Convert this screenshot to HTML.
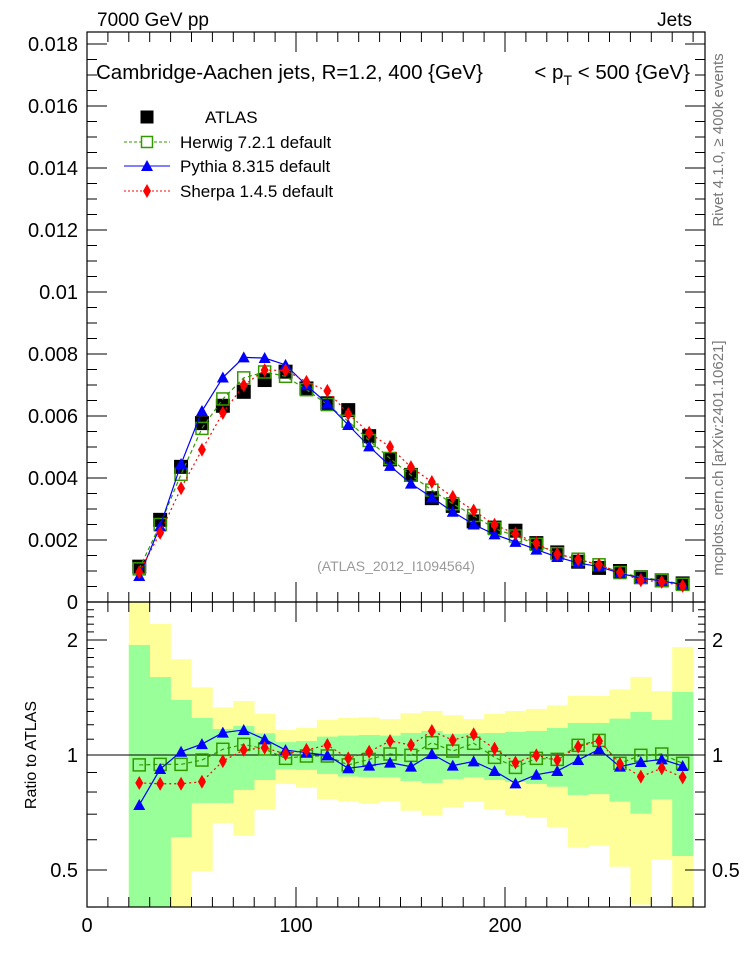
<!DOCTYPE html>
<html><head><meta charset="utf-8"><style>
html,body{margin:0;padding:0;background:#fff;}
svg{display:block;font-family:"Liberation Sans",sans-serif;}
</style></head><body>
<svg id="c" width="746" height="972" viewBox="0 0 746 972"></svg>
<script>
const binLo=[20,30,40,50,60,70,80,90,100,110,120,130,140,150,160,170,180,190,200,210,220,230,240,250,260,270,280];
const binHi=[30,40,50,60,70,80,90,100,110,120,130,140,150,160,170,180,190,200,210,220,230,240,250,260,270,280,290];
const centers=[25,35,45,55,65,75,85,95,105,115,125,135,145,155,165,175,185,195,205,215,225,235,245,255,265,275,285];
const atlas=[0.00114,0.00265,0.00436,0.00577,0.00633,0.00678,0.00716,0.00743,0.00689,0.00641,0.00619,0.00535,0.00460,0.00410,0.00335,0.00310,0.00260,0.00240,0.00230,0.00190,0.00160,0.00130,0.00110,0.00100,0.00080,0.00070,0.00060];
const herwig=[0.00107,0.00250,0.00412,0.00560,0.00655,0.00723,0.00742,0.00728,0.00685,0.00637,0.00583,0.00521,0.00463,0.00409,0.00361,0.00317,0.00279,0.00237,0.00213,0.00186,0.00156,0.00138,0.00120,0.00095,0.00080,0.00070,0.00057];
const pythia=[0.00084,0.00244,0.00445,0.00616,0.00724,0.00789,0.00787,0.00765,0.00699,0.00640,0.00571,0.00502,0.00439,0.00382,0.00337,0.00291,0.00250,0.00218,0.00194,0.00169,0.00145,0.00126,0.00114,0.00093,0.00077,0.00068,0.00056];
const sherpa=[0.00096,0.00223,0.00367,0.00491,0.00610,0.00699,0.00748,0.00747,0.00710,0.00681,0.00607,0.00546,0.00500,0.00435,0.00387,0.00339,0.00295,0.00249,0.00220,0.00190,0.00155,0.00137,0.00120,0.00095,0.00070,0.00065,0.00052];
const herwigRatio=[0.942,0.945,0.945,0.970,1.035,1.066,1.037,0.980,0.994,0.994,0.942,0.974,1.006,0.998,1.077,1.024,1.073,0.986,0.928,0.980,0.974,1.060,1.092,0.951,0.998,1.006,0.951];
const pythiaRatio=[0.740,0.919,1.020,1.068,1.144,1.163,1.099,1.030,1.014,0.998,0.923,0.938,0.955,0.932,1.006,0.938,0.962,0.908,0.843,0.888,0.908,0.970,1.035,0.932,0.959,0.974,0.936];
const sherpaRatio=[0.845,0.841,0.841,0.851,0.964,1.031,1.045,1.006,1.031,1.062,0.980,1.020,1.088,1.062,1.156,1.094,1.133,1.039,0.955,0.998,0.970,1.052,1.088,0.947,0.878,0.923,0.874];
const greenHi=[1.941,1.600,1.393,1.250,1.170,1.191,1.140,1.081,1.088,1.117,1.124,1.128,1.124,1.142,1.156,1.135,1.140,1.142,1.149,1.156,1.177,1.213,1.213,1.245,1.296,1.235,1.462];
const greenLo=[0.3,0.3,0.610,0.749,0.749,0.810,0.860,0.917,0.914,0.892,0.878,0.874,0.874,0.855,0.845,0.865,0.874,0.860,0.850,0.840,0.826,0.786,0.790,0.755,0.702,0.765,0.544];
const yellowHi=[3.0,2.203,1.780,1.504,1.333,1.385,1.281,1.163,1.177,1.235,1.250,1.255,1.242,1.286,1.304,1.270,1.242,1.281,1.304,1.320,1.349,1.427,1.427,1.486,1.600,1.471,1.917];
const yellowLo=[0.3,0.3,0.3,0.497,0.664,0.615,0.719,0.840,0.821,0.767,0.755,0.746,0.758,0.715,0.694,0.731,0.755,0.722,0.696,0.686,0.648,0.572,0.579,0.510,0.406,0.532,0.3];
const yTicks=["0","0.002","0.004","0.006","0.008","0.01","0.012","0.014","0.016","0.018"];
const yTickVals=[0,0.002,0.004,0.006,0.008,0.010,0.012,0.014,0.016,0.018];
const xTicks=["0","100","200"];
const xTickVals=[0,100,200];
const rTicks=["0.5","1","2"];
const rTickVals=[0.5,1,2];

const L=87,R=705,T=32,M=602,B=907;
const sx=v=>L+v*2.09;
const sy=v=>M-v*31000;
const sr=r=>755-Math.log2(r)*115;
const NS="http://www.w3.org/2000/svg";
const svg=document.getElementById('c');
function el(tag,attrs,parent){const e=document.createElementNS(NS,tag);for(const k in attrs)e.setAttribute(k,attrs[k]);(parent||svg).appendChild(e);return e;}
function txt(s,attrs,parent){const e=el('text',attrs,parent);e.textContent=s;return e;}

const defs=el('defs',{});
const cp=el('clipPath',{id:'rc'},defs);el('rect',{x:L,y:M,width:R-L,height:B-M},cp);

const gb=el('g',{'clip-path':'url(#rc)'});


for(let i=0;i<binLo.length;i++){
  const y=el('rect',{x:sx(binLo[i]),y:sr(yellowHi[i]),width:sx(binHi[i])-sx(binLo[i])+0.3,height:sr(yellowLo[i])-sr(yellowHi[i]),fill:'#ffff99'},gb);
  
  
}
for(let i=0;i<binLo.length;i++){
  const g=el('rect',{x:sx(binLo[i]),y:sr(greenHi[i]),width:sx(binHi[i])-sx(binLo[i])+0.3,height:sr(greenLo[i])-sr(greenHi[i]),fill:'#99ff99'},gb);
  
  
}
el('line',{x1:L,x2:R,y1:sr(1),y2:sr(1),stroke:'#000','stroke-width':1});

const f1=el('rect',{x:L,y:T,width:R-L,height:M-T,fill:'none',stroke:'#000','stroke-width':1.2});


const f2=el('rect',{x:L,y:M,width:R-L,height:B-M,fill:'none',stroke:'#000','stroke-width':1.2});



for(let v=0;v<=290;v+=10){
  const major=(v%100===0);const len=major?20:10;const x=sx(v);
  el('line',{x1:x,x2:x,y1:M,y2:M-len,stroke:'#000'});
  el('line',{x1:x,x2:x,y1:T,y2:T+len,stroke:'#000'});
  el('line',{x1:x,x2:x,y1:B,y2:B-len,stroke:'#000'});
  el('line',{x1:x,x2:x,y1:M,y2:M+len,stroke:'#000'});
}
for(let i=0;i<xTicks.length;i++){
  const t=txt(xTicks[i],{x:sx(xTickVals[i]),y:932,'font-size':20,'text-anchor':'middle'});
  
  
}
for(let k=0;k<=36;k++){
  const v=k*0.0005;const y=sy(v);if(y<T)continue;const len=(k%4===0)?20:10;
  el('line',{x1:L,x2:L+len,y1:y,y2:y,stroke:'#000'});
  el('line',{x1:R,x2:R-len,y1:y,y2:y,stroke:'#000'});
}
for(let i=0;i<yTicks.length;i++){
  const t=txt(yTicks[i],{x:78,y:sy(yTickVals[i])+7,'font-size':20,'text-anchor':'end'});
  
  
}
const rMinor=[0.4,0.5,0.6,0.7,0.8,0.9,1,2];
for(const r of rMinor){const y=sr(r);const len=(r===0.5||r===1||r===2)?20:10;
  el('line',{x1:L,x2:L+len,y1:y,y2:y,stroke:'#000'});el('line',{x1:R,x2:R-len,y1:y,y2:y,stroke:'#000'});}
for(const r of [1.1,1.2,1.3,1.4,1.5,1.6,1.7,1.8,1.9,2.1,2.2,2.3,2.4]){const y=sr(r);
  el('line',{x1:L,x2:L+7,y1:y,y2:y,stroke:'#000'});el('line',{x1:R,x2:R-7,y1:y,y2:y,stroke:'#000'});}
for(let i=0;i<rTicks.length;i++){
  const a=txt(rTicks[i],{x:78,y:sr(rTickVals[i])+7,'font-size':20,'text-anchor':'end'});
  
  
  const b=txt(rTicks[i],{x:712,y:sr(rTickVals[i])+7,'font-size':20,'text-anchor':'start'});
  
  
}

function sq(g,x,y,s,fill,stroke){return el('rect',{x:x-s/2,y:y-s/2,width:s,height:s,fill:fill,stroke:stroke||'none','stroke-width':1.5},g);}
function tri(g,x,y,c){return el('polygon',{points:`${x},${y-6} ${x-6},${y+5} ${x+6},${y+5}`,fill:c},g);}
function dia(g,x,y,c){return el('polygon',{points:`${x},${y-7} ${x-4},${y} ${x},${y+7} ${x+4},${y}`,fill:c},g);}
const HC='#339900',PC='#0000ff',SC='#ff0000';

function series(name,vals,fx,fy,color,dash,marker,clip){
  const g=el('g',clip?{'clip-path':clip}:{});
  
  
  if(color){
    const pts=vals.map((v,i)=>`${fx(centers[i])},${fy(v)}`).join(' ');
    el('polyline',{points:pts,fill:'none',stroke:color,'stroke-width':1.2,'stroke-dasharray':dash||'none'},g);
  }
  vals.forEach((v,i)=>{const m=marker(g,fx(centers[i]),fy(v));
    
    });
}
series('atlas-data',atlas,sx,sy,null,null,(g,x,y)=>sq(g,x,y,14,'#000'));
series('herwig-curve',herwig,sx,sy,HC,'4,3',(g,x,y)=>sq(g,x,y,12,'none',HC));
series('pythia-curve',pythia,sx,sy,PC,null,(g,x,y)=>tri(g,x,y,PC));
series('sherpa-curve',sherpa,sx,sy,SC,'2,3',(g,x,y)=>dia(g,x,y,SC));
series('herwig-ratio',herwigRatio,sx,sr,HC,'4,3',(g,x,y)=>sq(g,x,y,12,'none',HC),'url(#rc)');
series('pythia-ratio',pythiaRatio,sx,sr,PC,null,(g,x,y)=>tri(g,x,y,PC),'url(#rc)');
series('sherpa-ratio',sherpaRatio,sx,sr,SC,'2,3',(g,x,y)=>dia(g,x,y,SC),'url(#rc)');

const lg=el('g',{});


const ly=[117,142,166,191],lab=['ATLAS','Herwig 7.2.1 default','Pythia 8.315 default','Sherpa 1.4.5 default'];
sq(lg,147,117,13,'#000');
el('line',{x1:124,x2:170,y1:142,y2:142,stroke:HC,'stroke-dasharray':'3,2'},lg);sq(lg,147,142,11,'#fff',HC);
el('line',{x1:124,x2:170,y1:166,y2:166,stroke:PC},lg);tri(lg,147,166,PC);
el('line',{x1:124,x2:170,y1:191,y2:191,stroke:SC,'stroke-dasharray':'2,2'},lg);dia(lg,147,191,SC);
for(let i=0;i<4;i++){const t=txt(lab[i],{x:i===0?205:180,y:ly[i]+6,'font-size':17},lg);
  
  }

let t;
t=txt('7000 GeV pp',{x:97,y:26,'font-size':19});
t=txt('Jets',{x:692,y:26,'font-size':19,'text-anchor':'end'});
t=txt('Cambridge-Aachen jets, R=1.2, 400 {GeV}',{x:96,y:79,'font-size':20.5});
const t2=el('text',{x:690,y:79,'font-size':20.5,'text-anchor':'end'});
t2.innerHTML='&lt; p<tspan font-size="14" dy="6">T</tspan><tspan dy="-6"> &lt; 500 {GeV}</tspan>';
t=txt('(ATLAS_2012_I1094564)',{x:396,y:571,'font-size':14,fill:'#999','text-anchor':'middle'});
t=txt('Ratio to ATLAS',{x:0,y:0,'font-size':16,'text-anchor':'middle',transform:'translate(36,755) rotate(-90)'});
t=txt('Rivet 4.1.0, \u2265 400k events',{x:0,y:0,'font-size':15,fill:'#777','text-anchor':'middle',transform:'translate(723,140) rotate(-90)'});
t=txt('mcplots.cern.ch [arXiv:2401.10621]',{x:0,y:0,'font-size':15,fill:'#777','text-anchor':'middle',transform:'translate(723,458) rotate(-90)'});
</script>
</body></html>
